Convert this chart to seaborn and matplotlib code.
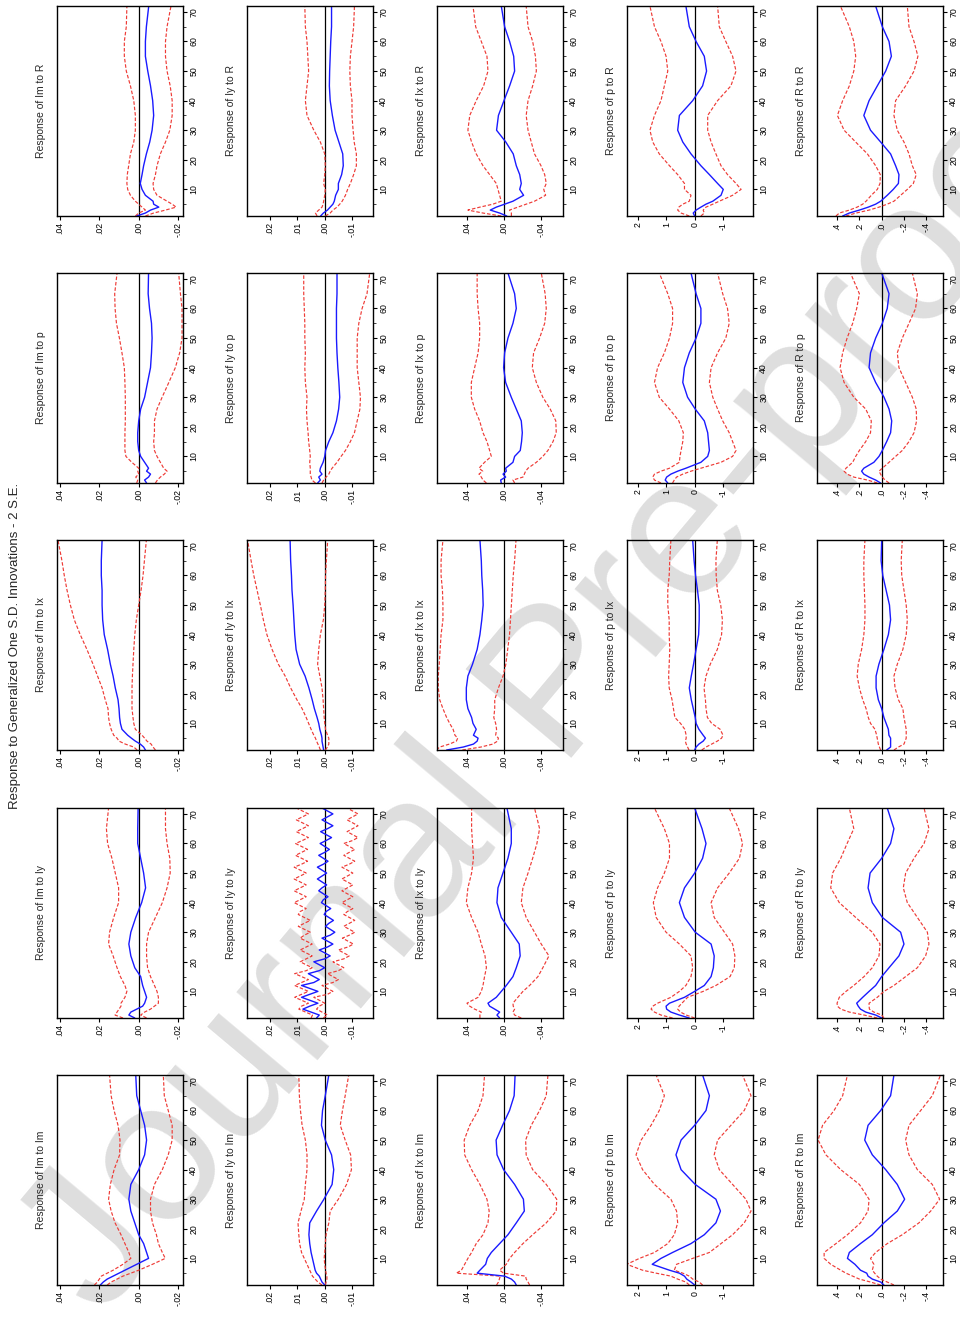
import matplotlib
matplotlib.use('Agg')
import numpy as np
import pandas as pd
import matplotlib.pyplot as plt
from matplotlib.ticker import MultipleLocator
import seaborn as sns

# horizon points
horizon = [1, 2, 3, 4, 5, 6, 8, 10, 12, 15, 18, 22, 26, 30, 35, 40, 45, 50, 55, 60, 65, 72]
# the saw-toothed Iy-to-Iy panel is read period by period
horizon_full = list(range(1, 73))

variables = ['Im', 'Iy', 'Ix', 'p', 'R']

# value axis ticks for each response variable
im_ticks = [0.04, 0.02, 0.0, -0.02]
im_labels = ['.04', '.02', '.00', '-.02']
iy_ticks = [0.02, 0.01, 0.0, -0.01]
iy_labels = ['.02', '.01', '.00', '-.01']
ix_ticks = [0.04, 0.0, -0.04]
ix_labels = ['.04', '.00', '-.04']
p_ticks = [2, 1, 0, -1]
p_labels = ['2', '1', '0', '-1']
r_ticks = [0.4, 0.2, 0.0, -0.2, -0.4]
r_labels = ['.4', '.2', '.0', '-.2', '-.4']
horizon_ticks = [10, 20, 30, 40, 50, 60, 70]

# ---- response of Im ----
im_im = [0.0195, 0.018, 0.016, 0.013, 0.010, 0.007, 0.001, -0.005, -0.004, -0.0025, 0.000, 0.002, 0.004, 0.005, 0.004, 0.000, -0.003, -0.004, -0.003, -0.001, 0.001, 0.0015]
im_im_up = [0.0225, 0.021, 0.020, 0.019, 0.016, 0.013, 0.008, 0.004, 0.005, 0.007, 0.009, 0.012, 0.014, 0.0153, 0.0144, 0.0125, 0.0097, 0.0095, 0.0105, 0.0125, 0.014, 0.0148]
im_im_lo = [0.016, 0.014, 0.011, 0.008, 0.004, 0.000, -0.007, -0.0135, -0.012, -0.010, -0.009, -0.007, -0.006, -0.006, -0.008, -0.012, -0.015, -0.017, -0.017, -0.015, -0.013, -0.0125]

im_iy = [0.002, 0.005, 0.004, 0.001, -0.002, -0.003, -0.004, -0.003, -0.002, -0.001, 0.002, 0.004, 0.005, 0.004, 0.0015, -0.0015, -0.0035, -0.0025, -0.001, 0.0005, 0.0005, 0.0003]
im_iy_up = [0.008, 0.012, 0.011, 0.010, 0.009, 0.009, 0.007, 0.006, 0.007, 0.0093, 0.011, 0.013, 0.0153, 0.0148, 0.0127, 0.0102, 0.0102, 0.0119, 0.0136, 0.0158, 0.0164, 0.0153]
im_iy_lo = [-0.004, -0.001, -0.003, -0.006, -0.008, -0.010, -0.010, -0.0093, -0.008, -0.006, -0.0045, -0.004, -0.004, -0.005, -0.0085, -0.012, -0.0144, -0.016, -0.0158, -0.0144, -0.0136, -0.0136]

im_ix = [-0.0034, -0.0025, -0.0008, 0.0017, 0.0037, 0.0056, 0.0085, 0.0093, 0.0097, 0.010, 0.0105, 0.0119, 0.013, 0.0144, 0.0158, 0.0175, 0.0183, 0.0186, 0.0186, 0.019, 0.019, 0.0186]
im_ix_up = [0.0008, 0.0025, 0.0068, 0.010, 0.011, 0.0127, 0.014, 0.0148, 0.0153, 0.0156, 0.017, 0.0186, 0.0209, 0.0232, 0.0263, 0.0297, 0.0327, 0.0347, 0.0364, 0.0378, 0.039, 0.041]
im_ix_lo = [-0.0085, -0.0073, -0.0063, -0.0042, -0.003, -0.0017, 0.0017, 0.0025, 0.0029, 0.0034, 0.0034, 0.0034, 0.0032, 0.0029, 0.0025, 0.002, 0.0012, 0.0, -0.0012, -0.0022, -0.0029, -0.0039]

im_p = [-0.004, -0.003, -0.005, -0.006, -0.004, -0.005, -0.003, -0.001, 0.000, 0.0005, 0.0005, 0.000, -0.001, -0.003, -0.0045, -0.006, -0.0065, -0.0068, -0.0065, -0.0055, -0.0048, -0.005]
im_p_up = [0.001, 0.0005, 0.0015, 0.000, 0.0005, 0.000, 0.0035, 0.0065, 0.007, 0.007, 0.007, 0.0068, 0.0068, 0.0068, 0.007, 0.0073, 0.0085, 0.0098, 0.0113, 0.012, 0.0122, 0.011]
im_p_lo = [-0.0085, -0.0095, -0.011, -0.013, -0.0144, -0.0127, -0.011, -0.0093, -0.008, -0.0076, -0.008, -0.008, -0.0093, -0.0119, -0.0153, -0.0186, -0.0208, -0.022, -0.022, -0.022, -0.0212, -0.0203]

im_r = [0.001, -0.0034, -0.006, -0.0102, -0.0076, -0.0073, -0.0034, -0.0017, -0.0008, -0.0017, -0.0025, -0.0039, -0.0056, -0.0068, -0.0076, -0.0071, -0.006, -0.0046, -0.0034, -0.0034, -0.0039, -0.0051]
im_r_up = [0.0017, 0.0, -0.0034, -0.0017, 0.0, 0.0017, 0.0042, 0.0056, 0.006, 0.0058, 0.0051, 0.0042, 0.0025, 0.0017, 0.0017, 0.0025, 0.0042, 0.0063, 0.0073, 0.0073, 0.0063, 0.006]
im_r_lo = [-0.0034, -0.0076, -0.0136, -0.019, -0.017, -0.0144, -0.0093, -0.0076, -0.0073, -0.0085, -0.0093, -0.011, -0.0136, -0.0158, -0.017, -0.017, -0.016, -0.0144, -0.0136, -0.0136, -0.0144, -0.0164]

# ---- response of Iy ----
iy_im = [0.000, 0.001, 0.0015, 0.002, 0.003, 0.0035, 0.004, 0.0045, 0.005, 0.0055, 0.0058, 0.0055, 0.003, 0.0003, -0.0027, -0.0033, -0.0025, -0.0002, 0.0012, 0.0008, -0.0002, -0.0015]
iy_im_up = [0.001, 0.0025, 0.0035, 0.0045, 0.005, 0.0055, 0.0065, 0.0075, 0.0085, 0.0092, 0.0095, 0.0098, 0.0087, 0.0075, 0.0071, 0.0065, 0.0065, 0.0071, 0.0083, 0.0089, 0.0093, 0.0095]
iy_im_lo = [-0.0002, -0.0005, -0.0008, -0.0008, -0.0005, -0.0003, 0.0, 0.0002, 0.0, -0.0002, -0.0005, -0.0015, -0.002, -0.005, -0.008, -0.0098, -0.0095, -0.0075, -0.0057, -0.0065, -0.0075, -0.0088]

# Iy to Iy, periods 1..72
iy_iy = [0.003, 0.002, 0.005, 0.008, 0.0055, 0.0025, 0.0055, 0.0085, 0.0055, 0.0025, 0.0055, 0.0085,
         0.004, 0.002, 0.004, 0.006, 0.002, 0.000, 0.002, 0.004, 0.000, -0.002, 0.000, 0.002,
         -0.001, -0.003, -0.001, 0.001, -0.002, -0.0037, -0.002, -0.0003, -0.0015, -0.0032, -0.0015, 0.0002,
         -0.0005, -0.0022, -0.0005, 0.0012, 0.0005, -0.0012, 0.0005, 0.0022, 0.001, -0.0007, 0.001, 0.0027,
         0.001, -0.0007, 0.001, 0.0027, 0.0005, -0.0012, 0.0005, 0.0022, 0.000, -0.0017, 0.000, 0.0017,
         -0.0005, -0.0025, -0.0005, 0.0015, -0.001, -0.003, -0.001, 0.001, -0.001, -0.003, -0.001, 0.001]
iy_iy_up = [0.005, 0.0045, 0.007, 0.0095, 0.0085, 0.006, 0.0085, 0.011, 0.0085, 0.006, 0.0085, 0.011,
            0.0085, 0.006, 0.0085, 0.011, 0.0068, 0.0046, 0.0068, 0.009, 0.0068, 0.0046, 0.0068, 0.009,
            0.0068, 0.0046, 0.0068, 0.009, 0.0075, 0.0053, 0.0075, 0.0097, 0.0075, 0.0053, 0.0075, 0.0097,
            0.009, 0.0068, 0.009, 0.0112, 0.009, 0.0068, 0.009, 0.0112, 0.009, 0.0068, 0.009, 0.0112,
            0.009, 0.0068, 0.009, 0.0112, 0.0085, 0.0063, 0.0085, 0.0107, 0.0085, 0.0063, 0.0085, 0.0107,
            0.0082, 0.006, 0.0082, 0.0104, 0.0082, 0.006, 0.0082, 0.0104, 0.0082, 0.006, 0.0082, 0.0104]
iy_iy_lo = [0.0005, -0.001, 0.001, 0.003, 0.002, 0.000, 0.002, 0.004, -0.001, -0.003, -0.001, 0.001,
            -0.003, -0.005, -0.003, -0.001, -0.005, -0.007, -0.005, -0.003, -0.007, -0.009, -0.007, -0.005,
            -0.0085, -0.0105, -0.0085, -0.0065, -0.009, -0.011, -0.009, -0.007, -0.009, -0.011, -0.009, -0.007,
            -0.0083, -0.0103, -0.0083, -0.0063, -0.0083, -0.0103, -0.0083, -0.0063, -0.0083, -0.0103, -0.0083, -0.0063,
            -0.0083, -0.0103, -0.0083, -0.0063, -0.009, -0.011, -0.009, -0.007, -0.009, -0.011, -0.009, -0.007,
            -0.0102, -0.0122, -0.0102, -0.0082, -0.0102, -0.0122, -0.0102, -0.0082, -0.0102, -0.0122, -0.0102, -0.0082]

iy_ix = [0.0004, 0.0006, 0.0008, 0.001, 0.001, 0.0012, 0.0018, 0.0022, 0.0028, 0.0038, 0.0046, 0.0058, 0.0072, 0.0092, 0.0105, 0.011, 0.0113, 0.0116, 0.012, 0.0122, 0.0125, 0.0127]
iy_ix_up = [0.0016, 0.002, 0.0025, 0.003, 0.0034, 0.004, 0.005, 0.0059, 0.0068, 0.0083, 0.0102, 0.0125, 0.0145, 0.017, 0.0193, 0.0212, 0.0225, 0.0236, 0.0248, 0.026, 0.027, 0.0283]
iy_ix_lo = [-0.0002, -0.001, -0.0015, -0.0015, -0.0015, -0.001, -0.0003, 0.0, 0.0002, 0.0004, 0.0006, 0.001, 0.0018, 0.0026, 0.0022, 0.0016, 0.0005, 0.0, -0.0002, -0.0003, -0.0006, -0.0011]

iy_p = [0.0026, 0.0016, 0.0022, 0.001, 0.0018, 0.0016, 0.0006, 0.0, -0.0003, -0.0015, -0.003, -0.0043, -0.0051, -0.0055, -0.0052, -0.0048, -0.0045, -0.0043, -0.0043, -0.0043, -0.0045, -0.0045]
iy_p_up = [0.0034, 0.0047, 0.005, 0.0053, 0.0053, 0.0053, 0.0055, 0.0053, 0.0055, 0.0059, 0.0061, 0.0065, 0.0067, 0.0065, 0.0071, 0.0073, 0.0071, 0.0073, 0.0073, 0.0075, 0.0077, 0.0077]
iy_p_lo = [0.001, 0.0004, -0.0005, -0.0015, -0.002, -0.0027, -0.0045, -0.006, -0.0076, -0.0094, -0.0109, -0.0119, -0.0129, -0.0131, -0.0125, -0.0119, -0.0119, -0.0119, -0.0125, -0.0137, -0.0155, -0.0165]

iy_r = [0.0015, 0.0005, -0.001, -0.002, -0.003, -0.0035, -0.004, -0.005, -0.005, -0.0062, -0.0068, -0.0066, -0.0052, -0.0038, -0.0028, -0.002, -0.0017, -0.0018, -0.002, -0.0022, -0.0025, -0.0025]
iy_r_up = [0.0028, 0.0034, 0.0022, 0.001, 0.0006, 0.0004, 0.0, -0.0002, 0.0004, 0.0, -0.0002, 0.0, 0.0016, 0.004, 0.0065, 0.0071, 0.0065, 0.0059, 0.0062, 0.0065, 0.0071, 0.0073]
iy_r_lo = [-0.0002, -0.002, -0.003, -0.0045, -0.0055, -0.0064, -0.0076, -0.0084, -0.0094, -0.0106, -0.0116, -0.0116, -0.0108, -0.0104, -0.010, -0.010, -0.0094, -0.0092, -0.0094, -0.010, -0.0106, -0.0109]

# ---- response of Ix ----
ix_im = [-0.0133, -0.0115, -0.008, -0.0007, 0.029, 0.026, 0.0198, 0.018, 0.0137, 0.0047, -0.0043, -0.0133, -0.022, -0.021, -0.0115, 0.0004, 0.0075, 0.0085, 0.0015, -0.006, -0.011, -0.012]
ix_im_up = [0.008, 0.006, 0.005, 0.004, 0.0515, 0.046, 0.0425, 0.039, 0.035, 0.030, 0.0227, 0.0173, 0.016, 0.0184, 0.026, 0.035, 0.0425, 0.043, 0.037, 0.028, 0.0227, 0.021]
ix_im_lo = [-0.0277, -0.026, -0.024, -0.0234, 0.0004, 0.0047, -0.0025, -0.0061, -0.0115, -0.0205, -0.031, -0.0457, -0.0565, -0.057, -0.0457, -0.031, -0.024, -0.0234, -0.0295, -0.0385, -0.0457, -0.0475]

ix_iy = [0.0047, 0.0076, 0.0047, 0.010, 0.0155, 0.0173, 0.0083, 0.0029, -0.0025, -0.0097, -0.0133, -0.0175, -0.0165, -0.0079, 0.0029, 0.0076, 0.0065, 0.0011, -0.0043, -0.0079, -0.0079, -0.0032]
ix_iy_up = [0.026, 0.026, 0.0245, 0.0317, 0.037, 0.040, 0.028, 0.0245, 0.0227, 0.021, 0.019, 0.0205, 0.0245, 0.028, 0.035, 0.0407, 0.039, 0.035, 0.033, 0.034, 0.035, 0.035]
ix_iy_lo = [-0.0187, -0.0115, -0.0097, -0.0115, -0.010, -0.0097, -0.015, -0.0205, -0.0277, -0.0367, -0.042, -0.0486, -0.0403, -0.033, -0.024, -0.0187, -0.0205, -0.026, -0.031, -0.0356, -0.0385, -0.033]

ix_ix = [0.062, 0.044, 0.033, 0.029, 0.028, 0.033, 0.030, 0.0335, 0.035, 0.039, 0.0407, 0.0407, 0.039, 0.034, 0.029, 0.026, 0.024, 0.0225, 0.023, 0.024, 0.0245, 0.026]
ix_ix_up = [0.073, 0.0695, 0.059, 0.0515, 0.050, 0.053, 0.055, 0.0587, 0.062, 0.066, 0.0695, 0.071, 0.071, 0.070, 0.069, 0.068, 0.066, 0.066, 0.0665, 0.068, 0.068, 0.066]
ix_ix_lo = [0.045, 0.025, 0.012, 0.007, 0.006, 0.009, 0.008, 0.009, 0.011, 0.010, 0.010, 0.006, 0.001, -0.002, -0.004, -0.006, -0.007, -0.008, -0.009, -0.010, -0.0115, -0.013]

ix_p = [0.0029, 0.0036, -0.0018, 0.001, -0.0025, -0.0018, -0.0097, -0.0115, -0.0176, -0.019, -0.0198, -0.0187, -0.0133, -0.0079, -0.0018, 0.0004, -0.0007, -0.0043, -0.0097, -0.0133, -0.0115, -0.0043]
ix_p_up = [0.019, 0.0227, 0.0245, 0.027, 0.023, 0.027, 0.021, 0.0137, 0.0155, 0.0184, 0.0227, 0.0263, 0.0317, 0.0353, 0.0353, 0.0317, 0.028, 0.0263, 0.0263, 0.028, 0.029, 0.029]
ix_p_lo = [-0.0115, -0.0097, -0.0205, -0.022, -0.0234, -0.026, -0.035, -0.042, -0.0475, -0.053, -0.0565, -0.056, -0.050, -0.042, -0.035, -0.0306, -0.032, -0.0385, -0.044, -0.0457, -0.0445, -0.0403]

ix_r = [-0.003, 0.0047, 0.0148, 0.0083, -0.0007, -0.0097, -0.0212, -0.017, -0.0187, -0.017, -0.0133, -0.010, -0.002, 0.008, 0.006, 0.000, -0.0061, -0.0115, -0.0105, -0.0061, -0.0007, 0.0029]
ix_r_up = [0.003, 0.0227, 0.039, 0.026, 0.012, 0.003, 0.0047, 0.0065, 0.0083, 0.0155, 0.0227, 0.030, 0.035, 0.039, 0.037, 0.030, 0.022, 0.0173, 0.0184, 0.0245, 0.0306, 0.0335]
ix_r_lo = [-0.008, -0.008, -0.006, -0.015, -0.024, -0.033, -0.045, -0.043, -0.0457, -0.044, -0.040, -0.033, -0.0295, -0.026, -0.024, -0.026, -0.031, -0.035, -0.034, -0.031, -0.026, -0.024]

# ---- response of p ----
p_im = [0.0, 0.13, 0.28, 0.36, 0.54, 0.89, 1.5, 1.19, 0.78, 0.13, -0.34, -0.75, -0.91, -0.75, -0.02, 0.48, 0.66, 0.48, 0.0, -0.4, -0.52, -0.28]
p_im_up = [0.19, 0.31, 0.6, 0.84, 1.36, 1.84, 2.4, 1.95, 1.42, 0.95, 0.72, 0.6, 0.64, 0.84, 1.42, 1.84, 2.07, 1.89, 1.54, 1.25, 1.07, 1.36]
p_im_lo = [-0.28, -0.16, 0.07, 0.19, 0.42, 0.72, 0.64, 0.07, -0.52, -0.93, -1.34, -1.75, -1.99, -1.81, -1.34, -0.87, -0.69, -0.81, -1.28, -1.75, -1.99, -1.69]

p_iy = [0.19, 0.54, 0.84, 0.99, 1.01, 0.89, 0.36, 0.0, -0.34, -0.58, -0.66, -0.69, -0.58, -0.02, 0.36, 0.54, 0.36, 0.0, -0.28, -0.4, -0.26, 0.0]
p_iy_up = [0.78, 1.19, 1.42, 1.54, 1.48, 1.31, 0.84, 0.54, 0.31, 0.13, 0.07, 0.13, 0.54, 1.01, 1.36, 1.46, 1.31, 1.07, 0.89, 0.89, 1.07, 1.42]
p_iy_lo = [0.0, 0.3, 0.5, 0.6, 0.55, 0.45, 0.25, -0.3, -0.75, -1.25, -1.4, -1.42, -1.34, -1.05, -0.69, -0.58, -0.81, -1.22, -1.58, -1.69, -1.55, -1.22]

p_ix = [0.0, -0.05, -0.15, -0.3, -0.38, -0.3, -0.15, -0.05, -0.02, 0.05, 0.12, 0.19, 0.12, 0.04, -0.05, -0.14, -0.16, -0.16, -0.1, -0.03, 0.02, 0.07]
p_ix_up = [0.2, 0.25, 0.3, 0.33, 0.3, 0.3, 0.35, 0.5, 0.7, 0.75, 0.8, 0.9, 0.92, 0.9, 0.88, 0.9, 0.9, 0.95, 0.95, 0.9, 0.88, 0.84]
p_ix_lo = [-0.25, -0.4, -0.6, -0.8, -0.95, -1.0, -0.9, -0.6, -0.45, -0.4, -0.38, -0.33, -0.4, -0.55, -0.8, -0.95, -0.98, -0.92, -0.8, -0.76, -0.75, -0.8]

p_p = [0.95, 1.04, 0.99, 0.84, 0.6, 0.31, -0.22, -0.46, -0.52, -0.49, -0.46, -0.34, -0.02, 0.25, 0.42, 0.36, 0.19, -0.05, -0.22, -0.22, -0.05, 0.13]
p_p_up = [1.19, 1.42, 1.48, 1.42, 1.19, 0.89, 0.54, 0.52, 0.48, 0.42, 0.4, 0.56, 0.89, 1.25, 1.42, 1.31, 1.07, 0.89, 0.78, 0.78, 0.95, 1.25]
p_p_lo = [0.78, 0.72, 0.64, 0.42, 0.13, -0.22, -0.93, -1.34, -1.46, -1.34, -1.22, -0.99, -0.81, -0.64, -0.52, -0.58, -0.81, -1.1, -1.22, -1.16, -0.99, -0.81]

p_r = [0.0, 0.05, -0.05, -0.22, -0.4, -0.64, -0.93, -1.01, -0.81, -0.52, -0.22, 0.13, 0.42, 0.6, 0.54, 0.07, -0.28, -0.42, -0.34, -0.05, 0.19, 0.31]
p_r_up = [0.19, 0.48, 0.6, 0.56, 0.42, 0.19, 0.13, 0.36, 0.36, 0.6, 0.89, 1.25, 1.48, 1.58, 1.42, 1.19, 1.07, 0.95, 1.01, 1.19, 1.42, 1.58]
p_r_lo = [-0.22, -0.34, -0.3, -0.4, -0.64, -0.87, -1.34, -1.64, -1.46, -1.16, -0.93, -0.75, -0.58, -0.46, -0.46, -0.81, -1.28, -1.46, -1.34, -1.1, -0.87, -0.81]

# ---- response of R ----
r_im = [-0.02, 0.009, 0.084, 0.122, 0.134, 0.19, 0.24, 0.307, 0.29, 0.19, 0.084, -0.02, -0.14, -0.206, -0.14, -0.036, 0.084, 0.152, 0.122, 0.009, -0.08, -0.11]
r_im_up = [0.009, 0.1, 0.2, 0.26, 0.32, 0.367, 0.457, 0.516, 0.516, 0.41, 0.307, 0.19, 0.122, 0.113, 0.2, 0.367, 0.5, 0.57, 0.53, 0.427, 0.35, 0.307]
r_im_lo = [-0.11, -0.05, 0.009, 0.04, 0.063, 0.084, 0.07, 0.1, 0.054, -0.05, -0.185, -0.334, -0.44, -0.52, -0.454, -0.32, -0.245, -0.215, -0.245, -0.35, -0.454, -0.528]

r_iy = [0.0, 0.054, 0.143, 0.19, 0.21, 0.224, 0.17, 0.113, 0.054, 0.0, -0.066, -0.155, -0.2, -0.17, -0.006, 0.084, 0.122, 0.104, 0.0, -0.08, -0.11, -0.05]
r_iy_up = [0.039, 0.158, 0.29, 0.367, 0.397, 0.4, 0.38, 0.32, 0.25, 0.158, 0.084, 0.024, 0.015, 0.084, 0.233, 0.38, 0.457, 0.44, 0.367, 0.31, 0.25, 0.29]
r_iy_lo = [-0.02, 0.0, 0.07, 0.11, 0.113, 0.113, 0.039, -0.021, -0.11, -0.215, -0.32, -0.394, -0.424, -0.41, -0.32, -0.23, -0.194, -0.215, -0.29, -0.38, -0.424, -0.38]

r_ix = [-0.045, -0.08, -0.08, -0.08, -0.08, -0.065, -0.06, -0.04, -0.02, 0.0, 0.03, 0.05, 0.05, 0.025, -0.02, -0.06, -0.08, -0.07, -0.04, -0.01, 0.005, 0.0]
r_ix_up = [0.01, 0.02, 0.03, 0.035, 0.04, 0.045, 0.06, 0.1, 0.12, 0.14, 0.17, 0.2, 0.22, 0.21, 0.18, 0.16, 0.15, 0.15, 0.155, 0.16, 0.16, 0.15]
r_ix_lo = [-0.11, -0.15, -0.2, -0.21, -0.22, -0.22, -0.22, -0.21, -0.2, -0.19, -0.15, -0.12, -0.11, -0.14, -0.19, -0.22, -0.23, -0.22, -0.2, -0.18, -0.175, -0.185]

r_p = [0.009, 0.054, 0.113, 0.16, 0.18, 0.16, 0.07, 0.024, -0.006, -0.045, -0.08, -0.09, -0.066, -0.021, 0.054, 0.113, 0.1, 0.054, -0.006, -0.05, -0.066, 0.0]
r_p_up = [0.039, 0.128, 0.25, 0.31, 0.337, 0.32, 0.26, 0.233, 0.2, 0.143, 0.1, 0.093, 0.143, 0.25, 0.337, 0.373, 0.35, 0.31, 0.26, 0.224, 0.2, 0.28]
r_p_lo = [-0.066, -0.03, -0.006, 0.01, 0.024, -0.006, -0.066, -0.125, -0.185, -0.245, -0.29, -0.313, -0.31, -0.275, -0.215, -0.155, -0.14, -0.185, -0.245, -0.304, -0.32, -0.275]

r_r = [0.35, 0.29, 0.2, 0.12, 0.054, 0.009, -0.05, -0.104, -0.15, -0.155, -0.125, -0.08, 0.009, 0.1, 0.16, 0.113, 0.039, -0.036, -0.087, -0.066, -0.006, 0.054]
r_r_up = [0.41, 0.38, 0.29, 0.22, 0.17, 0.14, 0.093, 0.039, 0.015, 0.012, 0.054, 0.128, 0.233, 0.337, 0.397, 0.35, 0.29, 0.25, 0.233, 0.25, 0.29, 0.37]
r_r_lo = [0.32, 0.23, 0.113, 0.024, -0.05, -0.11, -0.17, -0.23, -0.284, -0.31, -0.275, -0.245, -0.2, -0.14, -0.11, -0.125, -0.215, -0.29, -0.325, -0.29, -0.245, -0.23]

irf = {
    ('Im', 'Im'): (im_im, im_im_up, im_im_lo), ('Im', 'Iy'): (im_iy, im_iy_up, im_iy_lo),
    ('Im', 'Ix'): (im_ix, im_ix_up, im_ix_lo), ('Im', 'p'): (im_p, im_p_up, im_p_lo),
    ('Im', 'R'): (im_r, im_r_up, im_r_lo),
    ('Iy', 'Im'): (iy_im, iy_im_up, iy_im_lo), ('Iy', 'Iy'): (iy_iy, iy_iy_up, iy_iy_lo),
    ('Iy', 'Ix'): (iy_ix, iy_ix_up, iy_ix_lo), ('Iy', 'p'): (iy_p, iy_p_up, iy_p_lo),
    ('Iy', 'R'): (iy_r, iy_r_up, iy_r_lo),
    ('Ix', 'Im'): (ix_im, ix_im_up, ix_im_lo), ('Ix', 'Iy'): (ix_iy, ix_iy_up, ix_iy_lo),
    ('Ix', 'Ix'): (ix_ix, ix_ix_up, ix_ix_lo), ('Ix', 'p'): (ix_p, ix_p_up, ix_p_lo),
    ('Ix', 'R'): (ix_r, ix_r_up, ix_r_lo),
    ('p', 'Im'): (p_im, p_im_up, p_im_lo), ('p', 'Iy'): (p_iy, p_iy_up, p_iy_lo),
    ('p', 'Ix'): (p_ix, p_ix_up, p_ix_lo), ('p', 'p'): (p_p, p_p_up, p_p_lo),
    ('p', 'R'): (p_r, p_r_up, p_r_lo),
    ('R', 'Im'): (r_im, r_im_up, r_im_lo), ('R', 'Iy'): (r_iy, r_iy_up, r_iy_lo),
    ('R', 'Ix'): (r_ix, r_ix_up, r_ix_lo), ('R', 'p'): (r_p, r_p_up, r_p_lo),
    ('R', 'R'): (r_r, r_r_up, r_r_lo),
}

value_axis = {
    'Im': (0.0415, -0.0225, im_ticks, im_labels),
    'Iy': (0.0285, -0.0177, iy_ticks, iy_labels),
    'Ix': (0.0724, -0.0638, ix_ticks, ix_labels),
    'p': (2.39, -2.06, p_ticks, p_labels),
    'R': (0.58, -0.55, r_ticks, r_labels),
}

sns.set_style('ticks')
plt.rcParams['font.family'] = ['Liberation Sans', 'DejaVu Sans']

W, H = 960, 1322
fig = plt.figure(figsize=(9.6, 13.22), dpi=100)
fig.patch.set_facecolor('white')

# page is printed sideways: response variable runs across, shock runs up the page
col_left = [57, 247, 437, 627, 817]
shock_top = {'R': 6, 'p': 273, 'Ix': 540, 'Iy': 808, 'Im': 1075}
pw, ph = 126, 210

blue = '#1a1aff'
red = '#ee3b36'

for ci, resp in enumerate(variables):
    hi, lo, ticks, labels = value_axis[resp]
    for shock in variables:
        top = shock_top[shock]
        ax = fig.add_axes([col_left[ci] / W, 1 - (top + ph) / H, pw / W, ph / H])
        ax.patch.set_alpha(0)
        mid, up, dn = irf[(resp, shock)]
        hz = horizon_full if len(mid) == len(horizon_full) else horizon
        df = pd.DataFrame({'h': hz, 'mid': mid, 'up': up, 'dn': dn})
        ax.axvline(0, color='black', lw=0.9, zorder=1)
        sns.lineplot(data=df, x='up', y='h', ax=ax, sort=False, estimator=None,
                     color=red, lw=0.85, linestyle=(0, (3, 1.6)))
        sns.lineplot(data=df, x='dn', y='h', ax=ax, sort=False, estimator=None,
                     color=red, lw=0.85, linestyle=(0, (3, 1.6)))
        sns.lineplot(data=df, x='mid', y='h', ax=ax, sort=False, estimator=None,
                     color=blue, lw=1.0)
        ax.set_xlim(hi, lo)
        ax.set_ylim(1, 72)
        ax.set_xticks(ticks)
        ax.set_xticklabels(labels, rotation=90, fontsize=6.3)
        ax.yaxis.tick_right()
        ax.set_yticks(horizon_ticks)
        ax.set_yticklabels([str(t) for t in horizon_ticks], rotation=90,
                           fontsize=6.3, va='center')
        ax.yaxis.set_minor_locator(MultipleLocator(5))
        ax.tick_params(axis='both', which='major', length=3, width=0.8, pad=1.5,
                       colors='black')
        ax.tick_params(axis='y', which='minor', length=2, width=0.6)
        ax.set_xlabel('')
        ax.set_ylabel('')
        for s in ax.spines.values():
            s.set_linewidth(1.0)
            s.set_color('black')
        ax.text(-0.13, 0.5, f'Response of {resp} to {shock}', transform=ax.transAxes,
                rotation=90, ha='center', va='center', fontsize=7.5)

fig.text(15 / W, 1 - 646 / H, 'Response to Generalized One S.D. Innovations - 2 S.E.',
         rotation=90, ha='center', va='center', fontsize=9.5)

# watermark sits behind the panels
fig.text(0.585, 0.478, 'Journal Pre-proof', rotation=50, ha='center', va='center',
         fontsize=145, color='#dedede', zorder=-1)

fig.savefig('out.png', dpi=100, facecolor='white')
